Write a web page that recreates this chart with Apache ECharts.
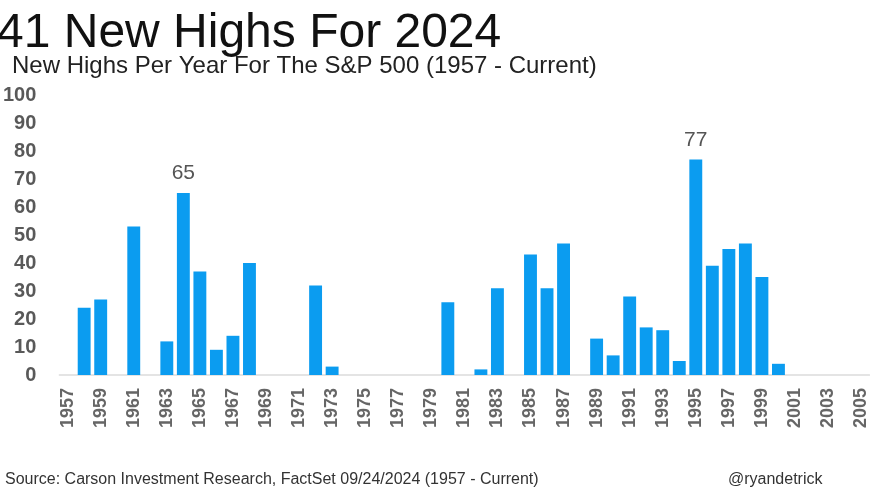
<!DOCTYPE html>
<html>
<head>
<meta charset="utf-8">
<script src="https://cdn.jsdelivr.net/npm/echarts@6/dist/echarts.min.js"></script>
<style>
html,body{margin:0;padding:0;background:#fff;}
#chart{width:870px;height:492px;}
</style>
</head>
<body>
<div id="chart"></div>
<script>
const years = ['1957','1958','1959','1960','1961','1962','1963','1964','1965','1966','1967','1968','1969','1970','1971','1972','1973','1974','1975','1976','1977','1978','1979','1980','1981','1982','1983','1984','1985','1986','1987','1988','1989','1990','1991','1992','1993','1994','1995','1996','1997','1998','1999','2000','2001','2002','2003','2004','2005'];
const newHighs = [0,24,27,0,53,0,12,65,37,9,14,40,0,0,0,32,3,0,0,0,0,0,0,26,0,2,31,0,43,31,47,0,13,7,28,17,16,5,77,39,45,47,35,4,0,0,0,0,0];
const labeledYears = ['1964','1995'];
const yTicks = [0,10,20,30,40,50,60,70,80,90,100];

const chart = echarts.init(document.getElementById('chart'));
chart.setOption({
  animation:false,
  backgroundColor:'#ffffff',
  title:[
    {text:'41 New Highs For 2024', left:-8, top:5, textStyle:{fontFamily:'Liberation Sans', fontSize:48, fontWeight:'normal', color:'#111'}},
    {text:'New Highs Per Year For The S&P 500 (1957 - Current)', left:7, top:49, textStyle:{fontFamily:'Liberation Sans', fontSize:24, fontWeight:'normal', color:'#222'}},
    {text:'Source: Carson Investment Research, FactSet 09/24/2024 (1957 - Current)', left:0, top:467, textStyle:{fontFamily:'Liberation Sans', fontSize:16, fontWeight:'normal', color:'#333'}},
    {text:'@ryandetrick', left:723, top:467, textStyle:{fontFamily:'Liberation Sans', fontSize:16, fontWeight:'normal', color:'#333'}}
  ],
  grid:{left:58, right:-8, top:95, bottom:117, containLabel:false},
  xAxis:{
    type:'category', data:years,
    axisLine:{show:true, lineStyle:{color:'#dcdcdc', width:1.5}},
    axisTick:{show:false},
    axisLabel:{interval:1, rotate:90, margin:13, fontFamily:'Liberation Sans', fontSize:18, fontWeight:'bold', color:'#666'}
  },
  yAxis:{
    type:'value', min:0, max:100, interval:10,
    splitLine:{show:false},
    axisLine:{show:false}, axisTick:{show:false},
    axisLabel:{margin:23, fontFamily:'Liberation Sans', fontSize:20, fontWeight:'bold', color:'#595959',
      formatter:function(v){return yTicks.indexOf(v)>=0?String(v):'';}}
  },
  series:[{
    type:'bar', data:newHighs.map(function(v,i){
      return labeledYears.indexOf(years[i])>=0 ? {value:v, label:{show:true}} : v;
    }),
    barCategoryGap:'22%',
    itemStyle:{color:'#0B9CF0'},
    label:{show:false, position:'top', distance:9, fontFamily:'Liberation Sans', fontSize:21, color:'#555'}
  }]
});
</script>
</body>
</html>
